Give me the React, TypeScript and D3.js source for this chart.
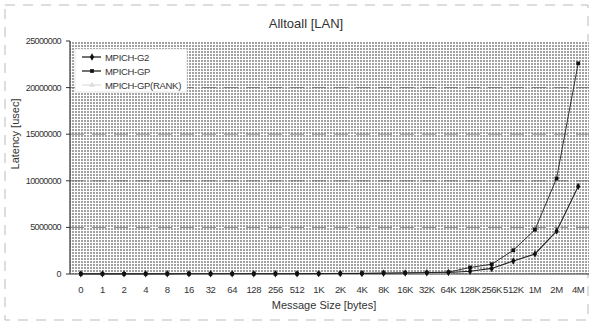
import React from 'react';
import * as d3 from 'd3';

// message sizes on the x axis
const sizes = ['0', '1', '2', '4', '8', '16', '32', '64', '128', '256', '512', '1K', '2K', '4K', '8K', '16K', '32K', '64K', '128K', '256K', '512K', '1M', '2M', '4M'];

// latency in usec
const g2 = [15000, 16000, 16000, 17000, 18000, 19000, 20000, 22000, 25000, 28000, 32000, 40000, 50000, 60000, 80000, 100000, 130000, 160000, 300000, 600000, 1400000, 2150000, 4600000, 9400000];
const gp = [18000, 19000, 19000, 20000, 21000, 22000, 24000, 26000, 30000, 34000, 40000, 50000, 60000, 75000, 95000, 120000, 150000, 200000, 700000, 1050000, 2550000, 4750000, 10250000, 22600000];
const gpRank = [14000, 15000, 15000, 16000, 17000, 18000, 19000, 21000, 24000, 27000, 30000, 38000, 48000, 58000, 75000, 95000, 120000, 150000, 250000, 500000, 1200000, 2000000, 4300000, 9000000];

const yTicks = [0, 5000000, 10000000, 15000000, 20000000, 25000000];

const W = 591;
const H = 323;
const m = { left: 70, right: 2, top: 41, bottom: 49 };

const font = '"Liberation Sans", Arial, sans-serif';

export default function App() {
  const x = d3.scaleBand<string>().domain(sizes).range([m.left, W - m.right]).padding(0);
  const y = d3.scaleLinear().domain([0, 25000000]).range([H - m.bottom, m.top]);
  const cx = (i: number) => (x(sizes[i]) as number) + x.bandwidth() / 2;

  const line = d3.line<number>().x((_, i) => cx(i)).y(d => y(d));

  const x0 = m.left;
  const x1 = W - m.right;
  const yb = y(0);
  const yt = y(25000000);

  const square = d3.symbol(d3.symbolSquare, 14)();
  const diamond = d3.symbol(d3.symbolDiamond, 16)();
  const tri = d3.symbol(d3.symbolTriangle, 14)();

  return (
    <svg width={W} height={H} style={{ position: 'absolute', left: 0, top: 0, background: '#fff' }} fontFamily={font}>
      <defs>
        <pattern id="scan" width="3" height="3" patternUnits="userSpaceOnUse">
          <rect width="3" height="3" fill="#fff" />
          <rect width="2" height="2" fill="#a2a2a2" />
        </pattern>
      </defs>

      {/* outer frame of the scanned chart */}
      <rect x={5} y={5} width={W - 8} height={H - 8} fill="none" stroke="#bbb" strokeDasharray="10,8" />

      <text x={306} y={28} textAnchor="middle" fontSize={13} fill="#333">Alltoall [LAN]</text>

      {/* plot area */}
      <rect x={x0} y={yt} width={x1 - x0} height={yb - yt} fill="url(#scan)" />

      {yTicks.filter(t => t > 0 && t < 25000000).map(t => (
        <line key={t} x1={x0} x2={x1} y1={y(t)} y2={y(t)} stroke="#666" strokeDasharray="14,8" strokeWidth={0.8} />
      ))}

      <line x1={x0} x2={x0} y1={yt} y2={yb} stroke="#333" strokeWidth={1.2} />
      <line x1={x0} x2={x1} y1={yb} y2={yb} stroke="#333" strokeWidth={1.2} />

      {yTicks.map(t => (
        <g key={t}>
          <line x1={x0 - 4} x2={x0} y1={y(t)} y2={y(t)} stroke="#333" />
          <text x={61} y={y(t) + 3} textAnchor="end" fontSize={9} letterSpacing={-0.6} fill="#333">{t}</text>
        </g>
      ))}

      {sizes.map((s, i) => (
        <text key={s} x={cx(i)} y={293} textAnchor="middle" fontSize={9.5} letterSpacing={-0.4} fill="#333">{s}</text>
      ))}

      <text x={324} y={309} textAnchor="middle" fontSize={11} fill="#333">Message Size [bytes]</text>
      <text transform={`translate(19,${134}) rotate(-90)`} textAnchor="middle" fontSize={11} fill="#333">Latency [usec]</text>

      {/* series */}
      <path d={line(gpRank) as string} fill="none" stroke="#eee" strokeWidth={1.2} />
      {gpRank.map((v, i) => (
        <path key={i} d={tri as string} transform={`translate(${cx(i)},${y(v)})`} fill="#eee" />
      ))}
      <path d={line(gp) as string} fill="none" stroke="#222" strokeWidth={0.9} />
      {gp.map((v, i) => (
        <path key={i} d={square as string} transform={`translate(${cx(i)},${y(v)})`} fill="#111" />
      ))}
      <path d={line(g2) as string} fill="none" stroke="#222" strokeWidth={1.1} />
      {g2.map((v, i) => (
        <path key={i} d={diamond as string} transform={`translate(${cx(i)},${y(v)})`} fill="#111" />
      ))}

      {/* legend */}
      <g>
        <rect x={75} y={49} width={112} height={43} fill="#fff" stroke="#ccc" strokeWidth={0.5} />
        {[
          { name: 'MPICH-G2', sym: diamond, color: '#111' },
          { name: 'MPICH-GP', sym: square, color: '#111' },
          { name: 'MPICH-GP(RANK)', sym: tri, color: '#ddd' },
        ].map((d, i) => (
          <g key={d.name} transform={`translate(0,${57 + i * 14})`}>
            <line x1={82} x2={101} y1={0} y2={0} stroke={d.color} strokeWidth={1.2} />
            <path d={d.sym as string} transform="translate(92,0)" fill={d.color} />
            <text x={105} y={3.5} fontSize={9.5} letterSpacing={-0.3} fill="#333">{d.name}</text>
          </g>
        ))}
      </g>
    </svg>
  );
}
